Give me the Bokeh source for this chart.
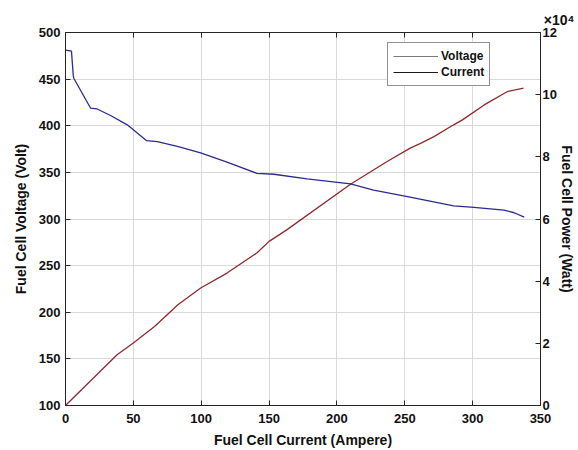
from bokeh.plotting import figure
from bokeh.models import (Range1d, LinearAxis, FixedTicker, Legend, LegendItem)
from bokeh.embed import file_html
from bokeh.resources import INLINE

# ---- data ----
current_v = [0, 4.4, 5.7, 6.1, 18.4, 23.3, 33.2, 45.5, 59.8, 67.6, 82.4, 99.6, 119,
             141, 153.6, 178, 210, 227, 252, 286, 301, 323, 330.6, 338]
voltage = [481, 480, 454, 451, 419, 418, 411, 401, 384, 383, 378, 371, 361,
           349, 348, 343, 337.6, 331, 324, 314, 312.5, 309.6, 306.7, 302]

current_p = [0, 38, 50, 65.6, 82.8, 99.6, 119, 141.4, 150, 163, 210, 237, 254, 262,
             271.5, 286, 292.5, 308.5, 325.7, 337.5]
power = [0, 16300, 20100, 25400, 32400, 37800, 42600, 49200, 52800, 56500, 71200,
         78500, 82800, 84400, 86500, 90300, 91900, 96700, 101000, 102100]

x_ticks = [0, 50, 100, 150, 200, 250, 300, 350]
v_ticks = [100, 150, 200, 250, 300, 350, 400, 450, 500]
p_ticks = [0, 20000, 40000, 60000, 80000, 100000, 120000]
p_tick_labels = ["0", "2", "4", "6", "8", "10", "12"]
p_multiplier = "×10⁴"
legend_labels = ["Voltage", "Current"]

FONT = "Liberation Sans"
NAN = float("nan")

p = figure(width=578, height=450, output_backend="svg", toolbar_location=None,
           x_range=Range1d(0, 350), y_range=Range1d(100, 500),
           min_border_left=65, min_border_right=38, min_border_top=32, min_border_bottom=44)
p.background_fill_color = "white"
p.border_fill_color = "white"
p.outline_line_color = "#262626"
p.outline_line_width = 1

p.extra_y_ranges = {"power": Range1d(0, 120000)}

def style_axis(ax):
    ax.major_tick_in = 5
    ax.major_tick_out = 0
    ax.minor_tick_in = 0
    ax.minor_tick_out = 0
    ax.axis_line_color = "#262626"
    ax.major_tick_line_color = "#262626"
    ax.major_label_text_font = FONT
    ax.major_label_text_font_style = "bold"
    ax.major_label_text_font_size = "13px"
    ax.major_label_text_color = "#111111"
    ax.axis_label_text_font = FONT
    ax.axis_label_text_font_style = "bold"
    ax.axis_label_text_font_size = "14px"
    ax.axis_label_text_color = "#111111"

xa = p.xaxis[0]
xa.ticker = FixedTicker(ticks=x_ticks)
xa.axis_label = "Fuel Cell Current (Ampere)"
style_axis(xa)
xa.major_label_standoff = 8
xa.axis_label_standoff = 6

ya = p.yaxis[0]
ya.ticker = FixedTicker(ticks=v_ticks)
ya.axis_label = "Fuel Cell Voltage (Volt)"
style_axis(ya)
ya.major_label_standoff = 5
ya.axis_label_standoff = 7

ra = LinearAxis(y_range_name="power", ticker=FixedTicker(ticks=p_ticks),
                axis_label="Fuel Cell Power (Watt)")
ra.major_label_overrides = {t: s for t, s in zip(p_ticks, p_tick_labels)}
style_axis(ra)
ra.major_label_standoff = 2
ra.axis_label_standoff = -1
p.add_layout(ra, "right")

# top edge ticks (box style), no labels
ta = LinearAxis(ticker=FixedTicker(ticks=x_ticks))
style_axis(ta)
ta.major_label_text_color = None
ta.major_label_text_font_size = "1px"
ta.major_label_standoff = 0
p.add_layout(ta, "above")

# axis multiplier as right-aligned title over the right axis
p.title.text = p_multiplier
p.title.align = "right"
p.title.offset = -34
p.title.text_font = FONT
p.title.text_font_style = "bold"
p.title.text_font_size = "14px"
p.title.text_color = "#111111"

p.xgrid.ticker = FixedTicker(ticks=x_ticks)
p.ygrid.ticker = FixedTicker(ticks=v_ticks)
for g in (p.xgrid[0], p.ygrid[0]):
    g.grid_line_color = "#d9d9d9"
    g.grid_line_width = 1

# curves
p.line(current_p, power, y_range_name="power", line_color="#8e2a2e", line_width=1.3)
p.line(current_v, voltage, line_color="#2b2b8f", line_width=1.3)

# legend (line colours as drawn in the reference legend)
r_leg1 = p.line([NAN, NAN], [NAN, NAN], line_color="#7a7a7a", line_width=1)
r_leg2 = p.line([NAN, NAN], [NAN, NAN], line_color="#1a1a1a", line_width=1)
legend = Legend(items=[LegendItem(label=legend_labels[0], renderers=[r_leg1]),
                       LegendItem(label=legend_labels[1], renderers=[r_leg2])],
                location=(322, 319))
legend.label_text_font = FONT
legend.label_text_font_style = "bold"
legend.label_text_font_size = "12px"
legend.label_text_color = "#111111"
legend.glyph_width = 45
legend.glyph_height = 16
legend.label_height = 16
legend.label_standoff = 3
legend.spacing = 0
legend.padding = 5
legend.margin = 0
legend.border_line_color = "#262626"
legend.border_line_width = 1
legend.background_fill_alpha = 1
p.add_layout(legend, "center")

open("out.html", "w").write(file_html(p, INLINE))
